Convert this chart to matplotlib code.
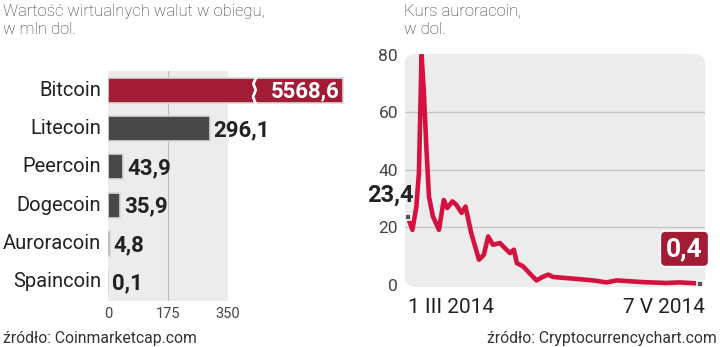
import matplotlib.pyplot as plt
from matplotlib import font_manager
from matplotlib.patches import FancyBboxPatch

# dane - lewy wykres
coins = ['Bitcoin', 'Litecoin', 'Peercoin', 'Dogecoin', 'Auroracoin', 'Spaincoin']
values = [5568.6, 296.1, 43.9, 35.9, 4.8, 0.1]
value_labels = ['5568,6', '296,1', '43,9', '35,9', '4,8', '0,1']
bar_ticks = [0, 175, 350]

# dane - prawy wykres (dni od 1 III 2014, kurs w dol.)
days = [0, 1.0, 1.9, 2.5, 3.1, 3.6, 4.2, 4.8, 5.7, 7.1, 8.2, 9.0, 10.2, 11.1, 12.3,
        13.2, 14.5, 16.3, 17.4, 18.4, 19.5, 21.1, 22.2, 23.4, 24.3, 25.0, 26.4, 27.9,
        29.5, 30.9, 32.2, 33.3, 36.4, 42.5, 45.6, 47.9, 54.0, 59.3, 62.4, 67]
price = [23.4, 19.1, 27.0, 39.0, 80.0, 68.0, 48.0, 30.7, 23.8, 19.1, 29.5, 26.7, 29.0,
         27.8, 25.0, 27.2, 18.0, 8.7, 10.4, 16.8, 13.9, 14.5, 12.8, 11.0, 12.2, 7.5,
         6.4, 4.0, 1.5, 2.7, 3.5, 2.7, 2.3, 1.5, 0.8, 1.5, 0.9, 0.6, 0.8, 0.4]
price_ticks = [0, 20, 40, 60, 80]

names = {f.name for f in font_manager.fontManager.ttflist}
if 'DejaVu Sans Condensed' in names:
    bold_font = 'DejaVu Sans Condensed'
else:
    bold_font = 'Roboto'
reg_font = 'Roboto' if 'Roboto' in names else 'DejaVu Sans'

dark = '#222222'
red_bar = '#a31c35'
line_red = '#d4123f'
panel = '#ececec'

fig = plt.figure(figsize=(7.2, 3.47), dpi=100)

# ---- lewy: wartosc walut
ax = fig.add_axes([108 / 720, 46 / 347, 240 / 720, 230 / 347])
ax.set_xlim(0, 700)
ax.set_ylim(len(coins) - 0.5, -0.5)
ax.axis('off')
ax.add_patch(FancyBboxPatch((0, -0.5), 350, len(coins), boxstyle='round,pad=0,rounding_size=0',
                            facecolor=panel, edgecolor='none', zorder=0))
ax.plot([175, 175], [-0.5, len(coins) - 0.5], color='#bbbbbb', lw=0.8, zorder=1)

cap = 685
ypos = list(range(len(coins)))
shown = [min(v, cap) for v in values]
colors = [red_bar] + ['#484848'] * (len(coins) - 1)
ax.barh(ypos, shown, height=0.66, color=colors, edgecolor='#d8d8d8', linewidth=1.2, zorder=2)

for i, (v, lab) in enumerate(zip(values, value_labels)):
    if v > cap:
        ax.text(cap - 8, i + 0.03, lab, ha='right', va='center', color='white', fontsize=16,
                fontfamily=bold_font, fontweight='bold', zorder=4)
        ax.plot([433, 424, 431, 423, 430], [-0.34, -0.17, 0, 0.17, 0.34], color='white', lw=2, zorder=3)
    else:
        ax.text(v + 12, i + 0.04, lab, ha='left', va='center', color=dark, fontsize=16,
                fontfamily=bold_font, fontweight='bold')
    ax.text(-20, i, coins[i], ha='right', va='center', color=dark, fontsize=14.5, fontfamily=reg_font)

for t in bar_ticks:
    ax.text(t, len(coins) - 0.5 + 0.35, str(t), ha='center', va='center', color='#444444',
            fontsize=10.5, fontfamily=reg_font)

# ---- prawy: kurs auroracoin
ax2 = fig.add_axes([405 / 720, 60 / 347, 300 / 720, 233 / 347])
ax2.set_xlim(-0.7, 68.2)
ax2.set_ylim(-0.8, 80.3)
for s in ax2.spines.values():
    s.set_visible(False)
ax2.set_facecolor('none')
ax2.add_patch(FancyBboxPatch((0, 0), 1, 1, boxstyle='round,pad=0,rounding_size=0.04',
                             transform=ax2.transAxes, facecolor=panel, edgecolor='none', zorder=0))
for t in price_ticks[1:-1]:
    ax2.axhline(t, color='#c4c4c4', lw=0.9, zorder=1)
ax2.set_yticks(price_ticks)
ax2.set_yticklabels([str(t) for t in price_ticks], fontfamily=reg_font, fontsize=12.5, color='#444444')
ax2.tick_params(axis='y', length=0, pad=5)
ax2.set_xticks([])

ax2.plot(days, price, color=line_red, lw=3.3, solid_joinstyle='round', zorder=3)
ax2.plot([days[0], days[-1]], [price[0], price[-1]], ls='none', marker='s', ms=5,
         mfc='#555555', mec='white', mew=1.2, zorder=4)
ax2.annotate('23,4', (days[0], price[0]), xytext=(4, 8), textcoords='offset points',
             ha='right', va='bottom', fontsize=17, fontfamily=bold_font, fontweight='bold', color=dark)
ax2.annotate('0,4', (days[-1], price[-1]), xytext=(-11, 25), textcoords='offset points',
             ha='center', va='center', fontsize=19, fontfamily=bold_font, fontweight='bold', color='white',
             bbox=dict(boxstyle='round,pad=0.22,rounding_size=0.2', fc=red_bar, ec='white', lw=1.2), zorder=5)
ax2.text(0, -4.5, '1 III 2014', ha='left', va='top', fontsize=15, fontfamily=reg_font, color=dark)
ax2.text(68.2, -4.5, '7 V 2014', ha='right', va='top', fontsize=15, fontfamily=reg_font, color=dark)

# ---- tytuly i zrodla
fig.text(3 / 720, 1 - 4 / 347, 'Wartość wirtualnych walut w obiegu,\nw mln dol.', ha='left', va='top',
         fontsize=12, fontfamily=reg_font, fontweight='light', color='#333333', linespacing=1.25)
fig.text(404 / 720, 1 - 4 / 347, 'Kurs auroracoin,\nw dol.', ha='left', va='top',
         fontsize=12, fontfamily=reg_font, fontweight='light', color='#333333', linespacing=1.25)
fig.text(3 / 720, 1 - 338 / 347, 'źródło: Coinmarketcap.com', ha='left', va='center',
         fontsize=11.3, fontfamily=reg_font, color='#333333')
fig.text(717 / 720, 1 - 338 / 347, 'źródło: Cryptocurrencychart.com', ha='right', va='center',
         fontsize=11.3, fontfamily=reg_font, color='#333333')

fig.savefig('out.png', dpi=100)
